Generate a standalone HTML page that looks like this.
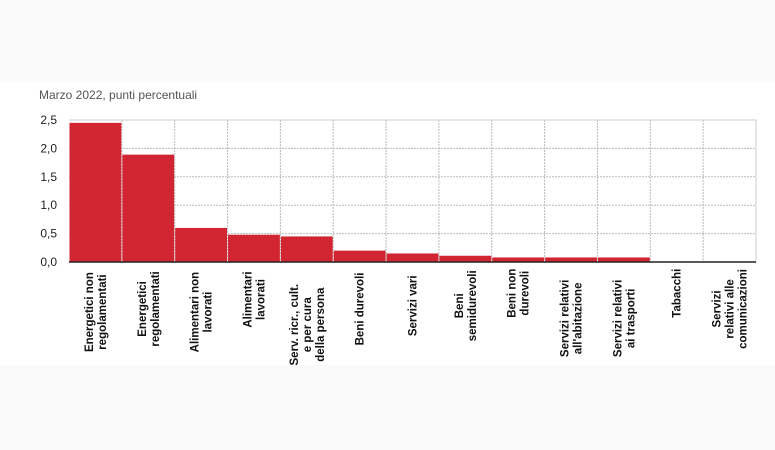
<!DOCTYPE html>
<html><head><meta charset="utf-8"><style>
body{margin:0;background:#fafafa;font-family:"Liberation Sans",sans-serif}
</style></head><body>
<svg width="775" height="450" style="position:absolute;left:0;top:0">
<rect x="0" y="82" width="775" height="283" fill="#ffffff"/>
<text x="39" y="99" font-size="12" fill="#555">Marzo 2022, punti percentuali</text>
<g id="g"></g>
</svg>
<script>
const categories=[["Energetici non","regolamentati"],["Energetici","regolamentati"],["Alimentari non","lavorati"],["Alimentari","lavorati"],["Serv. ricr., cult.","e per  cura","della persona"],["Beni durevoli"],["Servizi vari"],["Beni","semidurevoli"],["Beni non","durevoli"],["Servizi relativi","all'abitazione"],["Servizi relativi","ai trasporti"],["Tabacchi"],["Servizi","relativi alle","comunicazioni"]];
const values=[2.45,1.89,0.60,0.48,0.45,0.20,0.15,0.11,0.08,0.08,0.08,0,0];
const ticks=[0,0.5,1,1.5,2,2.5];
const tickLabels=["0,0","0,5","1,0","1,5","2,0","2,5"];
const L=69,R=756,T=120,B=262,ns="http://www.w3.org/2000/svg";
const g=document.getElementById('g');
const y=v=>B-(v/2.5)*(B-T);
const bw=(R-L)/categories.length;
const x=i=>L+i*bw;
function mk(t,a,p){const e=document.createElementNS(ns,t);for(const k in a)e.setAttribute(k,a[k]);(p||g).appendChild(e);return e;}
ticks.forEach((t,i)=>{
 if(t>0){const l=mk('line',{x1:L,x2:R,y1:y(t),y2:y(t),stroke:'#bbb','stroke-dasharray':'2,1'});
 
 }
 const tx=mk('text',{x:57,y:y(t)+4,'font-size':12,'text-anchor':'end',fill:'#222'});tx.textContent=tickLabels[i];
 
 
});
for(let i=1;i<categories.length;i++){const l=mk('line',{x1:x(i),x2:x(i),y1:T,y2:B,stroke:'#bbb','stroke-dasharray':'2,1'});
 
 }
const fr=mk('path',{d:`M${L} ${T}H${R}V${B}`,fill:'none',stroke:'#ccc'});


values.forEach((v,i)=>{
 if(v>0){const r=mk('rect',{x:x(i)+0.5,y:y(v),width:bw-1,height:B-y(v),fill:'#d12532'});
 
 }
 const cx=x(i)+bw/2, lines=categories[i], lh=13;
 const t=mk('text',{transform:`translate(${cx},268) rotate(-90)`,'font-size':11.5,'font-weight':'bold','text-anchor':'middle',fill:'#111'});
 
 
 const w=Math.max(...lines.map(s=>s.length))*6.3;
 lines.forEach((s,j)=>{const ts=mk('tspan',{x:-w/2,y:(j-(lines.length-1)/2)*lh+4},t);ts.textContent=s;});
});
const ax=mk('line',{x1:L,x2:R,y1:B,y2:B,stroke:'#222','stroke-width':1.5});


</script>
</body></html>
